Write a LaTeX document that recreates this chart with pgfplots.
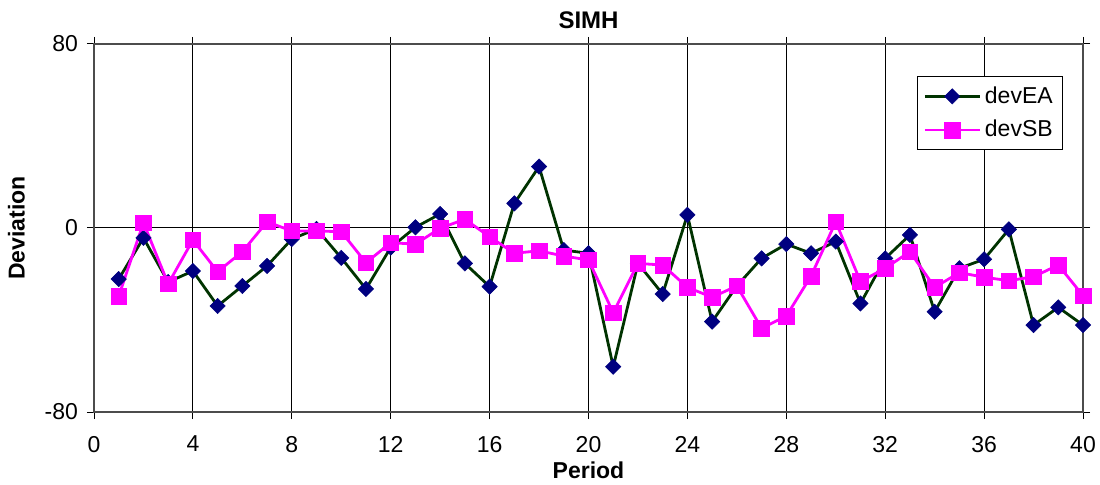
\documentclass[border=0pt]{standalone}
\usepackage{pgfplots}
\pgfplotsset{compat=1.18}
\usepackage{fontspec}
\setmainfont{Liberation Sans}
\definecolor{eaLine}{RGB}{0,51,0}
\definecolor{eaMark}{RGB}{0,0,128}
\definecolor{sbCol}{RGB}{255,0,255}
\begin{document}
\begin{tikzpicture}
\begin{axis}[
  name=ax,
  scale only axis,
  width=494.5pt, height=184pt,
  xmin=0, xmax=40, ymin=-80, ymax=80,
  xtick={0,4,...,40}, ytick={-80,0,80},
  xmajorgrids, ymajorgrids,
  major grid style={black, line width=0.5pt},
  axis line style={black!70, line width=0.8pt},
  tick align=outside, major tick length=3.5pt,
  tick style={black, line width=0.5pt},
  /pgf/number format/assume math mode=true,
  tick label style={font=\fontsize{11.5}{13}\selectfont},
  xticklabel style={yshift=-5pt},
  yticklabel style={xshift=-1pt},
  title={\textbf{SIMH}},
  title style={font=\fontsize{12}{14}\selectfont, yshift=-2pt},
  xlabel={\textbf{Period}},
  ylabel={\textbf{Deviation}},
  label style={font=\fontsize{11.5}{13}\selectfont},
  xlabel style={yshift=2pt},
  ylabel style={yshift=3pt},
  legend style={at={(0.98,0.913)}, anchor=north east, draw=black, line width=0.5pt,
    font=\fontsize{11.5}{13}\selectfont, inner sep=3pt, row sep=3pt},
  legend cell align=left,
  legend image code/.code={
    \draw[mark repeat=2, mark phase=2, #1]
      plot coordinates {(0cm,0cm) (0.48cm,0cm) (0.96cm,0cm)};},
]
\addplot[eaLine, line width=1.4pt, mark=square*, mark size=2.7pt,
  mark options={fill=eaMark, draw=eaMark, line width=0.3pt, rotate=45}]
coordinates {
(1,-22.2) (2,-4.3) (3,-23.5) (4,-18.7) (5,-33.9) (6,-25.2) (7,-16.5) (8,-4.8)
(9,-0.4) (10,-13) (11,-26.5) (12,-8.5) (13,0.3) (14,6.1) (15,-15.4) (16,-25.5)
(17,10.7) (18,26.7) (19,-9.6) (20,-11) (21,-60.3) (22,-15.4) (23,-28.7) (24,5.7)
(25,-40.7) (26,-25.2) (27,-13.2) (28,-7) (29,-11) (30,-5.9) (31,-32.8) (32,-13.2)
(33,-3) (34,-36.4) (35,-17.5) (36,-13.6) (37,-0.6) (38,-42.2) (39,-34.5) (40,-42.2)
};
\addlegendentry{devEA}
\addplot[sbCol, line width=1.4pt, mark=square*, mark size=3.9pt,
  mark options={fill=sbCol, draw=sbCol, line width=0.3pt}]
coordinates {
(1,-29.6) (2,2.3) (3,-24.3) (4,-5.2) (5,-19) (6,-10.3) (7,2.7) (8,-1.3)
(9,-1.3) (10,-1.6) (11,-15.1) (12,-6.4) (13,-7) (14,-0.1) (15,3.8) (16,-3.8)
(17,-11) (18,-9.9) (19,-12.2) (20,-13.9) (21,-36.8) (22,-15.4) (23,-16.1) (24,-25.8)
(25,-30.1) (26,-25.2) (27,-43.6) (28,-38.3) (29,-20.9) (30,2.7) (31,-23.3) (32,-17.5)
(33,-10.3) (34,-25.8) (35,-19.4) (36,-21.4) (37,-22.9) (38,-21.2) (39,-16.1) (40,-29.4)
};
\addlegendentry{devSB}
\end{axis}
\pgfresetboundingbox
\path ([xshift=-47pt,yshift=-36pt]ax.south west) rectangle ([xshift=8.5pt,yshift=22pt]ax.north east);
\end{tikzpicture}
\end{document}
